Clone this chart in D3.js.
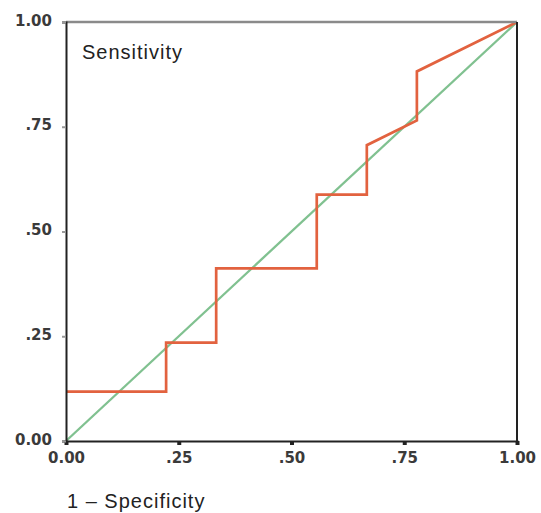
<!DOCTYPE html>
<html>
<head>
<meta charset="utf-8">
<script src="https://cdn.jsdelivr.net/npm/d3@7"></script>
<style>
  body { margin: 0; background: #fff; }
  .tick text { font-family: "DejaVu Sans", sans-serif; font-weight: bold; font-size: 15px; fill: #3a3a3a; }
  .title { font-family: "Liberation Sans", Arial, sans-serif; font-size: 20px; letter-spacing: 1px; fill: #222; }
</style>
</head>
<body>
<div id="chart"></div>
<script>
// ROC curve points
const fpr = [0, 0.222, 0.222, 0.333, 0.333, 0.556, 0.556, 0.667, 0.667, 0.778, 0.778, 1];
const tpr = [0.118, 0.118, 0.235, 0.235, 0.412, 0.412, 0.588, 0.588, 0.706, 0.765, 0.882, 1];
const refLine = [0, 1];
const tickValues = [0, 0.25, 0.5, 0.75, 1];
const tickLabels = ['0.00', '.25', '.50', '.75', '1.00'];

const width = 541;
const height = 513;
const margin = { top: 22, right: 24, bottom: 72, left: 66 };

const svg = d3.select('#chart')
  .append('svg')
  .attr('width', width)
  .attr('height', height);

const x = d3.scaleLinear().domain([0, 1]).range([margin.left, width - margin.right]);
const y = d3.scaleLinear().domain([0, 1]).range([height - margin.bottom, margin.top]);

// diagonal reference
svg.append('line')
  .attr('x1', x(refLine[0])).attr('y1', y(refLine[0]))
  .attr('x2', x(refLine[1])).attr('y2', y(refLine[1]))
  .attr('stroke', '#80c190')
  .attr('stroke-width', 2.3);

// ROC curve
const pts = fpr.map((d, i) => [d, tpr[i]]);
svg.append('path')
  .datum(pts)
  .attr('fill', 'none')
  .attr('stroke', '#e2623f')
  .attr('stroke-width', 2.7)
  .attr('d', d3.line().x(d => x(d[0])).y(d => y(d[1])));

// frame
svg.append('line')
  .attr('x1', x(0)).attr('x2', x(1))
  .attr('y1', y(1)).attr('y2', y(1))
  .attr('stroke', '#8a8a8a').attr('stroke-width', 2.5);
svg.append('line')
  .attr('x1', x(1)).attr('x2', x(1))
  .attr('y1', y(1)).attr('y2', y(0))
  .attr('stroke', '#222').attr('stroke-width', 2);

const fmt = d => tickLabels[tickValues.indexOf(d)];

const xAxis = svg.append('g')
  .attr('transform', `translate(0,${y(0)})`)
  .call(d3.axisBottom(x).tickValues(tickValues).tickFormat(fmt).tickSize(4).tickPadding(7));
const yAxis = svg.append('g')
  .attr('transform', `translate(${x(0)},0)`)
  .call(d3.axisLeft(y).tickValues(tickValues).tickFormat(fmt).tickSize(4).tickPadding(10));

[xAxis, yAxis].forEach(g => {
  g.select('.domain').attr('stroke', '#222').attr('stroke-width', 2);
});
xAxis.selectAll('.tick line').attr('stroke', '#222').attr('stroke-width', 4);
yAxis.selectAll('.tick line').attr('stroke', '#999').attr('stroke-width', 2);
yAxis.selectAll('.tick text').attr('dy', '0.2em');

svg.append('text')
  .attr('class', 'title')
  .attr('x', x(0) + 16)
  .attr('y', 59)
  .text('Sensitivity');

svg.append('text')
  .attr('class', 'title')
  .attr('x', 67)
  .attr('y', 508)
  .text('1 – Specificity');
</script>
</body>
</html>
